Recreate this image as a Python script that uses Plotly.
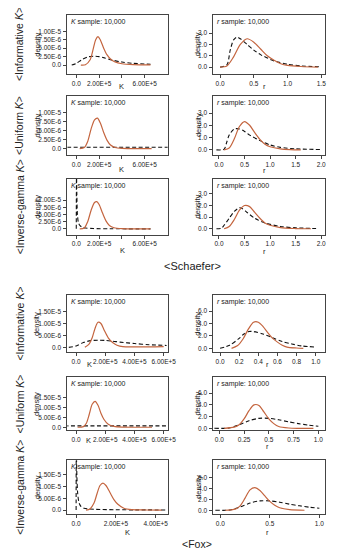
import plotly.graph_objects as go

# ---------------- data ----------------
# Schaefer, informative K prior
S_INF_K_RED_X = [0.4e5, 0.8e5, 1.2e5, 1.5e5, 1.7e5, 1.9e5, 2.1e5, 2.4e5, 2.7e5, 3.0e5, 3.4e5, 4.0e5, 5.0e5, 6.5e5]
S_INF_K_RED_Y = [0, 0.1e-6, 1.5e-6, 5e-6, 7.5e-6, 8.4e-6, 7.5e-6, 5e-6, 3e-6, 1.8e-6, 0.9e-6, 0.4e-6, 0.15e-6, 0.05e-6]
S_INF_K_PRI_X = [-0.4e5, 0, 0.5e5, 1e5, 1.5e5, 2e5, 2.5e5, 3e5, 4e5, 5e5, 6.5e5]
S_INF_K_PRI_Y = [0, 0.5e-6, 1.6e-6, 2.4e-6, 2.6e-6, 2.5e-6, 2.1e-6, 1.6e-6, 0.9e-6, 0.5e-6, 0.25e-6]
S_INF_R_RED_X = [0, 0.1, 0.2, 0.3, 0.4, 0.5, 0.6, 0.7, 0.8, 0.9, 1.0, 1.2, 1.45]
S_INF_R_RED_Y = [0, 0.1, 0.9, 2.0, 2.5, 2.2, 1.6, 1.0, 0.6, 0.3, 0.15, 0.05, 0.0]
S_INF_R_PRI_X = [0, 0.1, 0.15, 0.2, 0.25, 0.3, 0.4, 0.5, 0.6, 0.8, 1.0, 1.2, 1.5]
S_INF_R_PRI_Y = [0, 0.2, 1.5, 2.4, 2.65, 2.5, 2.0, 1.5, 1.1, 0.55, 0.25, 0.1, 0.03]
# Schaefer, uniform K prior
S_UNI_K_RED_X = [0.3e5, 0.7e5, 1e5, 1.3e5, 1.6e5, 1.85e5, 2.1e5, 2.4e5, 2.7e5, 3.0e5, 3.4e5, 4e5, 5e5, 6.6e5]
S_UNI_K_RED_Y = [0, 0.3e-6, 2e-6, 5.5e-6, 8e-6, 8.5e-6, 7.2e-6, 4.5e-6, 2.3e-6, 1e-6, 0.3e-6, 0.05e-6, 0, 0]
S_UNI_K_PRI_X = [-0.8e5, 8.5e5]
S_UNI_K_PRI_Y = [0.4e-6, 0.4e-6]
S_UNI_R_RED_X = [0.1, 0.2, 0.3, 0.4, 0.5, 0.6, 0.7, 0.8, 0.9, 1.0, 1.2, 1.4, 1.6]
S_UNI_R_RED_Y = [0, 0.15, 0.9, 1.9, 2.3, 2.0, 1.4, 0.85, 0.45, 0.25, 0.08, 0.02, 0]
S_UNI_R_PRI_X = [-0.05, 0.1, 0.15, 0.2, 0.3, 0.4, 0.5, 0.6, 0.8, 1.0, 1.2, 1.5, 2.0]
S_UNI_R_PRI_Y = [0, 0.05, 0.6, 1.2, 1.7, 1.7, 1.5, 1.2, 0.75, 0.4, 0.2, 0.08, 0.02]
# Schaefer, inverse-gamma K prior
S_IG_K_RED_X = [0.3e5, 0.7e5, 1e5, 1.3e5, 1.6e5, 1.8e5, 2.0e5, 2.3e5, 2.6e5, 2.9e5, 3.3e5, 4e5, 5e5, 6.5e5]
S_IG_K_RED_Y = [0, 0.3e-6, 2.5e-6, 6.5e-6, 9.2e-6, 9.5e-6, 8.5e-6, 5.5e-6, 2.8e-6, 1.2e-6, 0.4e-6, 0.05e-6, 0, 0]
S_IG_K_PRI_X = [0.0, 0.02e5, 0.05e5, 0.1e5, 0.2e5, 0.35e5, 0.5e5, 0.8e5, 1.5e5, 3e5, 6.5e5]
S_IG_K_PRI_Y = [0, 1.9e-5, 1.2e-5, 5e-6, 2e-6, 1e-6, 0.6e-6, 0.3e-6, 0.1e-6, 0.03e-6, 0]
S_IG_R_RED_X = [0.1, 0.2, 0.3, 0.4, 0.5, 0.6, 0.7, 0.8, 0.9, 1.0, 1.2, 1.5, 1.8]
S_IG_R_RED_Y = [0, 0.2, 0.8, 1.6, 2.0, 1.9, 1.4, 0.9, 0.5, 0.3, 0.1, 0.02, 0]
S_IG_R_PRI_X = [-0.05, 0.05, 0.1, 0.2, 0.3, 0.4, 0.45, 0.55, 0.7, 0.9, 1.2, 1.5, 1.9]
S_IG_R_PRI_Y = [0, 0.05, 0.3, 0.9, 1.5, 1.8, 1.75, 1.4, 0.9, 0.5, 0.2, 0.08, 0.02]
# Fox, informative K prior
F_INF_K_RED_X = [0.6e5, 0.9e5, 1.1e5, 1.3e5, 1.5e5, 1.7e5, 1.9e5, 2.2e5, 2.5e5, 2.8e5, 3.2e5, 4e5, 5e5, 6e5]
F_INF_K_RED_Y = [0, 1.5e-6, 4e-6, 8e-6, 1.05e-5, 1.0e-5, 7.5e-6, 4e-6, 2e-6, 0.9e-6, 0.3e-6, 0.2e-6, 0.2e-6, 0.3e-6]
F_INF_K_PRI_X = [-0.5e5, 0, 0.5e5, 1e5, 1.5e5, 2e5, 2.5e5, 3e5, 4e5, 5e5, 6.2e5]
F_INF_K_PRI_Y = [0, 0.6e-6, 2e-6, 2.8e-6, 3e-6, 2.9e-6, 2.6e-6, 2.2e-6, 1.6e-6, 1.1e-6, 0.8e-6]
F_INF_R_RED_X = [0.12, 0.18, 0.24, 0.3, 0.35, 0.4, 0.45, 0.5, 0.55, 0.6, 0.65, 0.7, 0.8, 0.87]
F_INF_R_RED_Y = [0, 0.4, 1.5, 3.2, 4.2, 4.2, 3.5, 2.5, 1.6, 1.0, 0.5, 0.2, 0.05, 0]
F_INF_R_PRI_X = [0, 0.1, 0.2, 0.25, 0.3, 0.35, 0.45, 0.55, 0.65, 0.75, 0.85, 1.0]
F_INF_R_PRI_Y = [0, 0.5, 1.6, 2.3, 2.7, 2.7, 2.3, 1.7, 1.1, 0.7, 0.4, 0.2]
# Fox, uniform K prior
F_UNI_K_RED_X = [0.1e5, 0.5e5, 0.7e5, 0.9e5, 1.1e5, 1.3e5, 1.5e5, 1.7e5, 1.9e5, 2.2e5, 2.6e5, 3.2e5, 4e5, 5.2e5]
F_UNI_K_RED_Y = [0, 0.3e-6, 2e-6, 6.5e-6, 1.15e-5, 1.3e-5, 1.1e-5, 7e-6, 4e-6, 1.5e-6, 0.4e-6, 0.05e-6, 0, 0]
F_UNI_K_PRI_X = [-0.8e5, 7e5]
F_UNI_K_PRI_Y = [0.7e-6, 0.7e-6]
F_UNI_R_RED_X = [0.05, 0.15, 0.2, 0.25, 0.3, 0.35, 0.4, 0.45, 0.5, 0.55, 0.6, 0.7, 0.8, 0.95]
F_UNI_R_RED_Y = [0, 0.2, 0.6, 1.6, 3.0, 4.0, 3.9, 2.8, 1.6, 0.8, 0.3, 0.05, 0, 0]
F_UNI_R_PRI_X = [-0.05, 0.1, 0.2, 0.3, 0.4, 0.5, 0.6, 0.7, 0.8, 0.9, 1.0]
F_UNI_R_PRI_Y = [0, 0.05, 0.6, 1.3, 1.7, 1.7, 1.45, 1.1, 0.8, 0.55, 0.35]
# Fox, inverse-gamma K prior
F_IG_K_RED_X = [0.5e5, 0.7e5, 0.9e5, 1.05e5, 1.2e5, 1.35e5, 1.5e5, 1.7e5, 1.9e5, 2.1e5, 2.4e5, 2.8e5, 3.5e5, 4.3e5]
F_IG_K_RED_Y = [0, 0.5e-6, 3e-6, 7e-6, 1.05e-5, 1.15e-5, 1.05e-5, 7.5e-6, 4.5e-6, 2.5e-6, 0.8e-6, 0.2e-6, 0.05e-6, 0]
F_IG_K_PRI_X = [0, 0.01e5, 0.04e5, 0.08e5, 0.15e5, 0.25e5, 0.4e5, 0.6e5, 1e5, 2e5, 3e5, 4.5e5]
F_IG_K_PRI_Y = [0, 2.5e-5, 1.4e-5, 7e-6, 3e-6, 1.5e-6, 0.8e-6, 0.5e-6, 0.3e-6, 0.15e-6, 0.1e-6, 0.05e-6]
F_IG_R_RED_X = [0.05, 0.15, 0.2, 0.25, 0.3, 0.35, 0.4, 0.45, 0.5, 0.55, 0.6, 0.7, 0.85]
F_IG_R_RED_Y = [0, 0.2, 0.8, 2.2, 3.7, 4.1, 3.6, 2.6, 1.6, 0.9, 0.45, 0.1, 0]
F_IG_R_PRI_X = [-0.05, 0.1, 0.2, 0.3, 0.4, 0.5, 0.6, 0.7, 0.8, 0.9, 1.0]
F_IG_R_PRI_Y = [0, 0.05, 0.6, 1.3, 1.7, 1.7, 1.45, 1.1, 0.8, 0.55, 0.35]

# tick labels
K_Y_TICKS_S = [0, 2.5e-6, 5e-6, 7.5e-6, 1e-5]
K_Y_TEXT_S = ["0.0", "2.50E-6", "5.00E-6", "7.50E-6", "1.00E-5"]
K_Y_TICKS_F = [0, 5e-6, 1e-5, 1.5e-5]
K_Y_TEXT_F = ["0.0", "5.00E-6", "1.00E-5", "1.50E-5"]
K_X_TICKS_S = [0, 2e5, 4e5, 6e5]
K_X_TEXT_S = ["0.0", "2.00E+5", "", "6.00E+5"]
K_X_TICKS_F = [0, 2e5, 4e5, 6e5]
K_X_TEXT_F = ["0.0", "2.00E+5", "4.00E+5", "6.00E+5"]
K_X_TICKS_F3 = [0, 2e5, 4e5]
K_X_TEXT_F3 = ["0.0", "2.00E+5", "4.00E+5"]
R_Y_TICKS_S = [0, 1, 2, 3]
R_Y_TEXT_S = ["0.0", "1.0", "2.0", "3.0"]
R_Y_TICKS_F = [0, 2, 4, 6]
R_Y_TEXT_F = ["0.0", "2.0", "4.0", "6.0"]
R_X_TICKS_S1 = [0, 0.5, 1.0, 1.5]
R_X_TEXT_S1 = ["0.0", "0.5", "1.0", "1.5"]
R_X_TICKS_S2 = [0, 0.5, 1.0, 1.5, 2.0]
R_X_TEXT_S2 = ["0.0", "0.5", "1.0", "1.5", "2.0"]
R_X_TICKS_F1 = [0, 0.2, 0.4, 0.6, 0.8, 1.0]
R_X_TEXT_F1 = ["0.0", "0.2", "0.4", "0.6", "0.8", "1.0"]
R_X_TICKS_F2 = [0, 0.25, 0.5, 0.75, 1.0]
R_X_TEXT_F2 = ["0.0", "0.25", "0.5", "0.75", "1.0"]
R_X_TICKS_F3 = [0, 0.5, 1.0]
R_X_TEXT_F3 = ["0.0", "0.5", "1.0"]

ROW_LABELS = ["&lt;Informative <i>K</i>&gt;", "&lt;Uniform <i>K</i>&gt;", "&lt;Inverse-gamma <i>K</i>&gt;"] * 2
MODEL_LABELS = ["&lt;Schaefer&gt;", "&lt;Fox&gt;"]

# ---------------- layout geometry (pixels) ----------------
W, H = 337, 550
RED = "#c4653f"
TXT = "#222222"
FONT = "Liberation Sans, Arial, sans-serif"

LEFT_BOX = (61, 164)
RIGHT_BOX = (211, 326)
ROWS = [(7, 66), (88, 147), (171, 227), (288, 345), (370, 423), (453, 507)]
# centre (pixels) of the K axis title per row (x, y) and of the r title per row (x, y)
K_TITLE_XY = [(117, 79), (117, 162), (118, 243), (84, 357), (83, 433), (123, 525)]
R_TITLE_XY = [(264, 79), (264, 163), (264, 244), (267, 357), (267, 439), (267, 525)]

panels = [
    # (row, side, red x, red y, prior x, prior y, xrange, yrange, xticks, xtext, yticks, ytext, var)
    (0, 0, S_INF_K_RED_X, S_INF_K_RED_Y, S_INF_K_PRI_X, S_INF_K_PRI_Y, [-0.78e5, 8.0e5], [-2.6e-6, 1.48e-5], K_X_TICKS_S, K_X_TEXT_S, K_Y_TICKS_S, K_Y_TEXT_S, "K"),
    (0, 1, S_INF_R_RED_X, S_INF_R_RED_Y, S_INF_R_PRI_X, S_INF_R_PRI_Y, [-0.10, 1.56], [-0.6, 4.6], R_X_TICKS_S1, R_X_TEXT_S1, R_Y_TICKS_S, R_Y_TEXT_S, "r"),
    (1, 0, S_UNI_K_RED_X, S_UNI_K_RED_Y, S_UNI_K_PRI_X, S_UNI_K_PRI_Y, [-0.78e5, 8.0e5], [-1.7e-6, 1.47e-5], K_X_TICKS_S, K_X_TEXT_S, K_Y_TICKS_S, K_Y_TEXT_S, "K"),
    (1, 1, S_UNI_R_RED_X, S_UNI_R_RED_Y, S_UNI_R_PRI_X, S_UNI_R_PRI_Y, [-0.11, 2.08], [-0.4, 4.4], R_X_TICKS_S2, R_X_TEXT_S2, R_Y_TICKS_S, R_Y_TEXT_S, "r"),
    (2, 0, S_IG_K_RED_X, S_IG_K_RED_Y, S_IG_K_PRI_X, S_IG_K_PRI_Y, [-0.78e5, 8.0e5], [-2.0e-6, 1.75e-5], K_X_TICKS_S, K_X_TEXT_S, K_Y_TICKS_S, K_Y_TEXT_S, "K"),
    (2, 1, S_IG_R_RED_X, S_IG_R_RED_Y, S_IG_R_PRI_X, S_IG_R_PRI_Y, [-0.11, 2.08], [-0.5, 4.3], R_X_TICKS_S2, R_X_TEXT_S2, R_Y_TICKS_S, R_Y_TEXT_S, "r"),
    (3, 0, F_INF_K_RED_X, F_INF_K_RED_Y, F_INF_K_PRI_X, F_INF_K_PRI_Y, [-0.6e5, 6.27e5], [-2.1e-6, 2.17e-5], K_X_TICKS_F, K_X_TEXT_F, K_Y_TICKS_F, K_Y_TEXT_F, "K"),
    (3, 1, F_INF_R_RED_X, F_INF_R_RED_Y, F_INF_R_PRI_X, F_INF_R_PRI_Y, [-0.07, 1.10], [-0.65, 8.5], R_X_TICKS_F1, R_X_TEXT_F1, R_Y_TICKS_F, R_Y_TEXT_F, "r"),
    (4, 0, F_UNI_K_RED_X, F_UNI_K_RED_Y, F_UNI_K_PRI_X, F_UNI_K_PRI_Y, [-0.6e5, 6.27e5], [-1.5e-6, 2.5e-5], K_X_TICKS_F, K_X_TEXT_F, K_Y_TICKS_F, K_Y_TEXT_F, "K"),
    (4, 1, F_UNI_R_RED_X, F_UNI_R_RED_Y, F_UNI_R_PRI_X, F_UNI_R_PRI_Y, [-0.06, 1.07], [-0.33, 8.7], R_X_TICKS_F2, R_X_TEXT_F2, R_Y_TICKS_F, R_Y_TEXT_F, "r"),
    (5, 0, F_IG_K_RED_X, F_IG_K_RED_Y, F_IG_K_PRI_X, F_IG_K_PRI_Y, [-0.44e5, 4.6e5], [-1.7e-6, 2.13e-5], K_X_TICKS_F3, K_X_TEXT_F3, K_Y_TICKS_F, K_Y_TEXT_F, "K"),
    (5, 1, F_IG_R_RED_X, F_IG_R_RED_Y, F_IG_R_PRI_X, F_IG_R_PRI_Y, [-0.07, 1.06], [-0.7, 9.1], R_X_TICKS_F3, R_X_TEXT_F3, R_Y_TICKS_F, R_Y_TEXT_F, "r"),
]


def px_x(p):
    return p / W


def px_y(p):
    return 1 - p / H


fig = go.Figure()
annotations = []
layout_axes = {}

for i, (row, side, rx, ry, px_, py_, xr, yr, xt, xtt, yt, ytt, var) in enumerate(panels):
    n = i + 1
    xa = "x" if n == 1 else f"x{n}"
    ya = "y" if n == 1 else f"y{n}"
    x0, x1 = LEFT_BOX if side == 0 else RIGHT_BOX
    top, bot = ROWS[row]
    fig.add_trace(go.Scatter(x=px_, y=py_, mode="lines", xaxis=xa, yaxis=ya,
                             line=dict(color="#111111", width=1.1, dash="4px,2.5px", shape="spline", smoothing=0.8),
                             showlegend=False, hoverinfo="skip"))
    fig.add_trace(go.Scatter(x=rx, y=ry, mode="lines", xaxis=xa, yaxis=ya,
                             line=dict(color=RED, width=1.2, shape="spline", smoothing=0.8),
                             showlegend=False, hoverinfo="skip"))
    axcommon = dict(showline=True, linecolor="#444444", linewidth=1, mirror=True, ticks="outside",
                    ticklen=3, tickcolor="#444444", showgrid=False, zeroline=False,
                    tickfont=dict(size=6.5, color=TXT, family=FONT))
    layout_axes["xaxis" if n == 1 else f"xaxis{n}"] = dict(
        axcommon, domain=[px_x(x0), px_x(x1)], range=xr, anchor=ya, tickangle=0,
        tickmode="array", tickvals=xt, ticktext=xtt, ticklabelstandoff=0)
    layout_axes["yaxis" if n == 1 else f"yaxis{n}"] = dict(
        axcommon, domain=[px_y(bot), px_y(top)], range=yr, anchor=xa, tickangle=0,
        tickmode="array", tickvals=yt, ticktext=ytt, ticklabelstandoff=1)

    # sample text inside box
    annotations.append(dict(text=f"<i>{var}</i> sample: 10,000", x=px_x(x0 + 2), y=px_y(top + 1),
                            xref="paper", yref="paper", xanchor="left", yanchor="top", showarrow=False,
                            font=dict(size=7, color=TXT, family=FONT)))
    # axis title
    tx, ty = K_TITLE_XY[row] if side == 0 else R_TITLE_XY[row]
    annotations.append(dict(text=var, x=px_x(tx), y=px_y(ty), xref="paper", yref="paper",
                            xanchor="center", yanchor="middle", showarrow=False, borderpad=0,
                            font=dict(size=7.5, color=TXT, family=FONT)))
    # density label
    annotations.append(dict(text="density", x=px_x(30 if side == 0 else 195), y=px_y((top + bot) / 2),
                            xref="paper", yref="paper", xanchor="center", yanchor="middle", textangle=-90,
                            showarrow=False, font=dict(size=7.5, color=TXT, family=FONT)))
    if side == 0:
        annotations.append(dict(text=ROW_LABELS[row], x=px_x(12), y=px_y((top + bot) / 2),
                                xref="paper", yref="paper", xanchor="center", yanchor="middle", textangle=-90,
                                showarrow=False, font=dict(size=10.5, color=TXT, family=FONT)))

annotations.append(dict(text=MODEL_LABELS[0], x=px_x(190), y=px_y(258), xref="paper", yref="paper",
                        xanchor="center", yanchor="middle", showarrow=False,
                        font=dict(size=11, color=TXT, family=FONT)))
annotations.append(dict(text=MODEL_LABELS[1], x=px_x(194), y=px_y(537), xref="paper", yref="paper",
                        xanchor="center", yanchor="middle", showarrow=False, borderpad=0,
                        font=dict(size=10.5, color=TXT, family=FONT)))

fig.update_layout(width=W, height=H, margin=dict(l=0, r=0, t=0, b=0),
                  paper_bgcolor="white", plot_bgcolor="white",
                  annotations=annotations, **layout_axes)

fig.write_html("out.html")
